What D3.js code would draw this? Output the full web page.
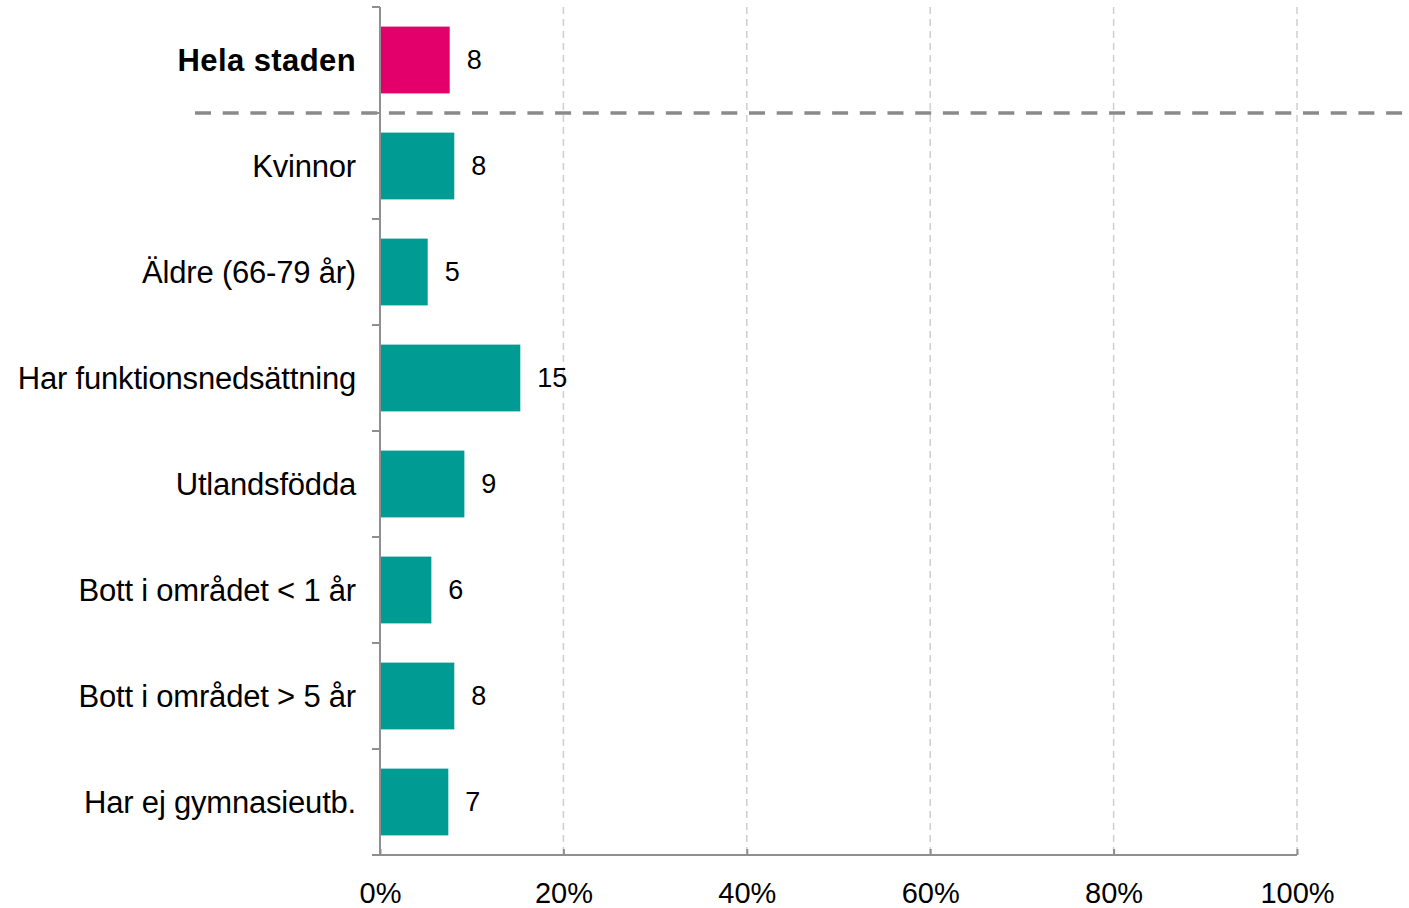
<!DOCTYPE html>
<html><head><meta charset="utf-8">
<script src="https://cdn.jsdelivr.net/npm/d3@7"></script>
<style>body{margin:0;background:#fff}svg{display:block}</style>
</head><body>
<svg id="c" width="1409" height="908"></svg>
<script>
const categories = ["Hela staden","Kvinnor","Äldre (66-79 år)","Har funktionsnedsättning","Utlandsfödda","Bott i området < 1 år","Bott i området > 5 år","Har ej gymnasieutb."];
const values = [7.6, 8.1, 5.2, 15.3, 9.2, 5.6, 8.1, 7.45];
const tickValues = [0, 20, 40, 60, 80, 100];
const colors = ["#E3006B", "#009B93"];

const svg = d3.select("#c");
const font = "Liberation Sans, Arial, sans-serif";
const x = d3.scaleLinear().domain([0,100]).range([380,1297]);
const y = d3.scaleBand().domain(categories).range([7,855]).paddingInner(0.37).paddingOuter(0.185);

// grid
svg.append("g").selectAll("line").data(tickValues.slice(1)).join("line")
  .attr("x1", d=>x(d)).attr("x2", d=>x(d)).attr("y1", 7).attr("y2", 855)
  .attr("stroke", "#cfcfcf").attr("stroke-width", 1.5).attr("stroke-dasharray", "7,5");

// bars
svg.append("g").selectAll("rect").data(categories).join("rect")
  .attr("x", x(0)).attr("y", d=>y(d)).attr("width", (d,i)=>x(values[i])-x(0)).attr("height", y.bandwidth())
  .attr("fill", (d,i)=> i===0 ? colors[0] : colors[1]);

// value labels
svg.append("g").selectAll("text").data(categories).join("text")
  .attr("x", (d,i)=>x(values[i])+17).attr("y", d=>y(d)+y.bandwidth()/2)
  .attr("dy","0.35em").attr("font-family", font).attr("font-size", 27).attr("fill","#000")
  .text((d,i)=>Math.round(values[i]));

// separator dashed line
const sepY = (y(categories[0]) + y.bandwidth() + y(categories[1]))/2;
svg.append("line").attr("x1",195).attr("x2",1409).attr("y1",sepY).attr("y2",sepY)
  .attr("stroke","#8a8a8a").attr("stroke-width",3.5).attr("stroke-dasharray","16,11.7");

// x axis
const xAxis = d3.axisBottom(x).tickValues(tickValues).tickFormat(d=>d+"%").tickSize(-6).tickPadding(27);
const gx = svg.append("g").attr("transform","translate(0,855)").call(xAxis);
gx.select(".domain").remove();
gx.append("line").attr("x1",372).attr("x2",x(100)).attr("stroke","#8f8f8f").attr("stroke-width",2);
gx.selectAll(".tick line").attr("stroke","#8f8f8f").attr("stroke-width",2);
gx.selectAll(".tick text").attr("font-family",font).attr("font-size",29).attr("fill","#000");

// y axis
const boundaries = categories.map(c=>y(c)-y.step()*y.paddingInner()/2).concat([855]);
const gy = svg.append("g");
gy.append("line").attr("x1",x(0)).attr("x2",x(0)).attr("y1",7).attr("y2",855).attr("stroke","#8f8f8f").attr("stroke-width",2);
gy.selectAll("line.t").data(boundaries).join("line").attr("class","t")
  .attr("x1",372).attr("x2",x(0)).attr("y1",d=>d).attr("y2",d=>d).attr("stroke","#8f8f8f").attr("stroke-width",2);
gy.selectAll("text").data(categories).join("text")
  .attr("x",356).attr("y",d=>y(d)+y.bandwidth()/2).attr("dy","0.35em").attr("text-anchor","end")
  .attr("font-family",font).attr("font-size",31).attr("letter-spacing",(d,i)=>i===0?"0.4":"-0.2")
  .attr("font-weight",(d,i)=>i===0?"bold":"normal").attr("fill","#000").text(d=>d);
</script>
</body></html>
